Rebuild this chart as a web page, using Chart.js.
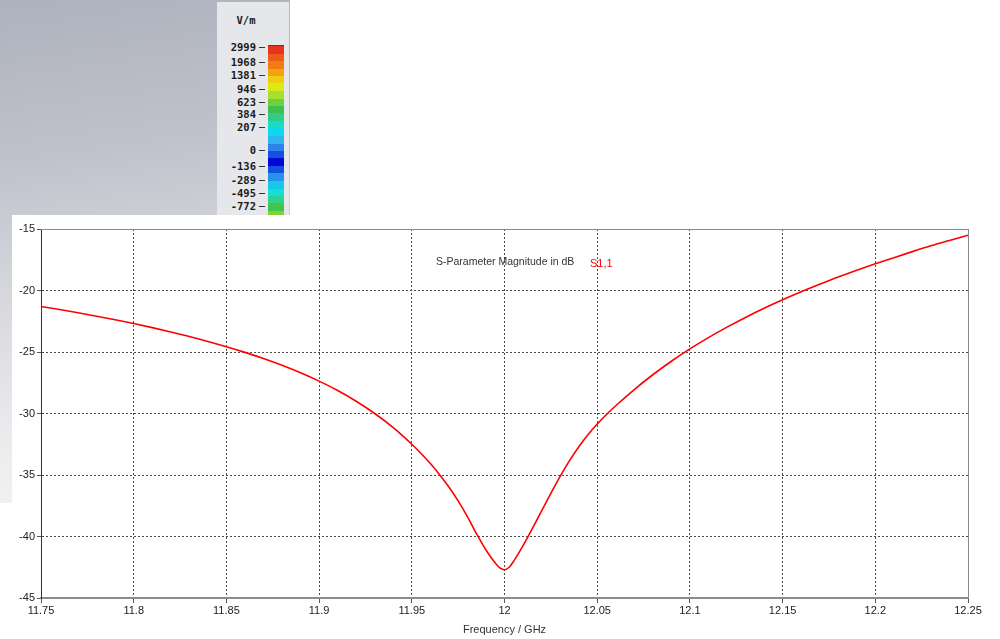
<!DOCTYPE html>
<html>
<head>
<meta charset="utf-8">
<script src="https://cdn.jsdelivr.net/npm/chart.js@4/dist/chart.umd.min.js"></script>
<style>
  html, body { margin: 0; padding: 0; background: #ffffff; }
  #stage { position: relative; width: 1000px; height: 639px; overflow: hidden; background: #ffffff; }
  #backdrop {
    position: absolute; left: 0; top: 0; width: 290px; height: 503px;
    background: linear-gradient(172deg, #aeb2be 0%, #bfc2cb 30%, #d6d8dd 55%, #ebebee 80%, #f4f4f6 100%);
  }
  #legendPanel {
    position: absolute; left: 217px; top: 2px; width: 72px; height: 213px;
    background: #e6e7ea;
    font-family: "DejaVu Sans Mono", monospace; font-weight: bold; font-size: 10.5px; color: #1a1a1a;
  }
  #legendPanel .unit { position: absolute; left: 0; width: 58px; top: 12px; text-align: center; }
  #legendPanel .lab { position: absolute; right: 33px; text-align: right; line-height: 12px; }
  #legendPanel .tick { position: absolute; left: 42px; width: 6px; height: 1px; background: #333; }
  #legendPanel .bar {
    position: absolute; left: 51px; top: 43px; width: 16px; height: 180px;
    border-top: 1px solid #a02010;
  }
  #chartBox { position: absolute; left: 12px; top: 215px; width: 988px; height: 424px; background: #ffffff; }
</style>
</head>
<body>
<div id="stage">
  <div id="backdrop"></div>
  <div id="legendPanel">
    <div class="unit">V/m</div>
    <div class="bar" id="colorBar"></div>
  </div>
  <div id="chartBox"><canvas id="chart"></canvas></div>
</div>
<script>
// Frequency sweep (GHz) and |S1,1| in dB
const frequencyGHz = [
  11.75, 11.76, 11.77, 11.78, 11.79, 11.80, 11.81, 11.82, 11.83, 11.84,
  11.85, 11.86, 11.87, 11.88, 11.89, 11.90, 11.91, 11.92, 11.93, 11.94,
  11.95, 11.955, 11.96, 11.965, 11.97, 11.975, 11.98, 11.985, 11.99, 11.995, 11.9975,
  12.00, 12.0025, 12.005, 12.01, 12.015, 12.02, 12.025, 12.03, 12.035, 12.04, 12.045,
  12.05, 12.055, 12.06, 12.07, 12.08, 12.09, 12.10, 12.11, 12.12, 12.13, 12.14,
  12.15, 12.16, 12.17, 12.18, 12.19, 12.20, 12.21, 12.22, 12.23, 12.24, 12.25
];
const s11dB = [
  -21.30, -21.55, -21.81, -22.09, -22.38, -22.69, -23.02, -23.37, -23.74, -24.14,
  -24.57, -25.03, -25.53, -26.08, -26.69, -27.37, -28.13, -29.00, -30.00, -31.15,
  -32.50, -33.25, -34.07, -34.97, -35.97, -37.10, -38.38, -39.80, -41.10, -42.15, -42.55,
  -42.70, -42.50, -42.00, -40.75, -39.35, -37.92, -36.50, -35.12, -33.85, -32.72, -31.73,
  -30.86, -30.08, -29.37, -28.05, -26.85, -25.75, -24.75, -23.83, -22.98, -22.19, -21.45,
  -20.76, -20.11, -19.50, -18.91, -18.36, -17.83, -17.33, -16.84, -16.37, -15.93, -15.50
];

// Axis tick positions
const yTicks = [-45, -40, -35, -30, -25, -20, -15];
const xTicks = [11.75, 11.8, 11.85, 11.9, 11.95, 12, 12.05, 12.1, 12.15, 12.2, 12.25];

// Field colour-scale legend
const fieldLabels = ["2999", "1968", "1381", "946", "623", "384", "207", "0", "-136", "-289", "-495", "-772"];
const fieldLabelY = [45, 60, 73, 87, 100, 112, 125, 148, 164, 178, 191, 204];
const fieldColors = [
  "#e6321e", "#ee5a18", "#f27c12", "#f4a20e", "#ecd010", "#dce818", "#a8e02c", "#6cd040",
  "#3cc050", "#30cc88", "#18dcc8", "#10d8ec", "#30b4f0", "#2a84ec", "#1450e0", "#0008d8",
  "#1450e0", "#2a90ec", "#18c8ec", "#10e0d8", "#30d090", "#44c448", "#7cd438", "#b8e424"
];

(function buildLegend() {
  const panel = document.getElementById('legendPanel');
  fieldLabels.forEach((t, i) => {
    const lab = document.createElement('div');
    lab.className = 'lab';
    lab.style.top = (fieldLabelY[i] - 6) + 'px';
    lab.textContent = t;
    panel.appendChild(lab);
    const tk = document.createElement('div');
    tk.className = 'tick';
    tk.style.top = fieldLabelY[i] + 'px';
    panel.appendChild(tk);
  });
  const step = 100 / fieldColors.length;
  const stops = fieldColors.map((c, i) => `${c} ${(i * step).toFixed(2)}% ${((i + 1) * step).toFixed(2)}%`);
  document.getElementById('colorBar').style.background = `linear-gradient(to bottom, ${stops.join(', ')})`;
})();

const textFont = '"Liberation Sans", Arial, sans-serif';

// Solid plot frame plus the in-plot caption
const framePlugin = {
  id: 'frame',
  beforeDatasetsDraw(chart) {
    const { ctx, chartArea: a } = chart;
    ctx.save();
    ctx.setLineDash([]);
    ctx.lineWidth = 1;
    ctx.strokeStyle = '#8a8a8a';
    ctx.beginPath();
    ctx.moveTo(a.left, a.top + 0.5);
    ctx.lineTo(a.right + 0.5, a.top + 0.5);
    ctx.lineTo(a.right + 0.5, a.bottom);
    ctx.stroke();
    ctx.restore();
  },
  afterDraw(chart) {
    const { ctx } = chart;
    ctx.save();
    ctx.textBaseline = 'middle';
    ctx.textAlign = 'left';
    ctx.font = '10.5px ' + textFont;
    ctx.fillStyle = '#333333';
    ctx.fillText('S-Parameter Magnitude in dB', 424, 47);
    ctx.font = '11px ' + textFont;
    ctx.fillStyle = '#ff0000';
    ctx.fillText('S1,1', 578, 49);
    ctx.restore();
  }
};

new Chart(document.getElementById('chart'), {
  type: 'line',
  data: {
    datasets: [{
      label: 'S1,1',
      data: frequencyGHz.map((f, i) => ({ x: f, y: s11dB[i] })),
      borderColor: '#ff0000',
      borderWidth: 1.6,
      pointRadius: 0,
      fill: false,
      cubicInterpolationMode: 'monotone'
    }]
  },
  options: {
    responsive: true,
    maintainAspectRatio: false,
    animation: false,
    devicePixelRatio: 1,
    layout: { padding: { top: 14, right: 32, left: 0, bottom: 0 } },
    plugins: { legend: { display: false }, tooltip: { enabled: false }, title: { display: false } },
    scales: {
      x: {
        type: 'linear',
        min: 11.75, max: 12.25,
        afterBuildTicks: s => { s.ticks = xTicks.map(v => ({ value: v })); },
        afterFit: s => { s.height = 41; },
        ticks: {
          padding: 1,
          color: '#222222',
          font: { family: textFont, size: 11 },
          maxRotation: 0,
          autoSkip: false,
          callback: v => String(Number(v.toFixed(2)))
        },
        grid: { color: '#4a4a4a', lineWidth: 1, drawTicks: true, tickLength: 5, tickColor: '#555555' },
        border: { display: true, color: '#8c8c8c', width: 2, dash: [2, 2] },
        title: {
          display: true, text: 'Frequency / GHz', color: '#333333',
          font: { family: textFont, size: 11 }, padding: { top: 0, bottom: 2 }
        }
      },
      y: {
        type: 'linear',
        min: -45, max: -15,
        afterBuildTicks: s => { s.ticks = yTicks.map(v => ({ value: v })); },
        afterFit: s => { s.width = 29; },
        ticks: {
          padding: 2,
          color: '#222222',
          font: { family: textFont, size: 11 },
          callback: v => String(v)
        },
        grid: { color: '#4a4a4a', lineWidth: 1, drawTicks: true, tickLength: 4, tickColor: '#555555' },
        border: { display: true, color: '#333333', width: 1, dash: [2, 2] }
      }
    }
  },
  plugins: [framePlugin]
});
</script>
</body>
</html>
